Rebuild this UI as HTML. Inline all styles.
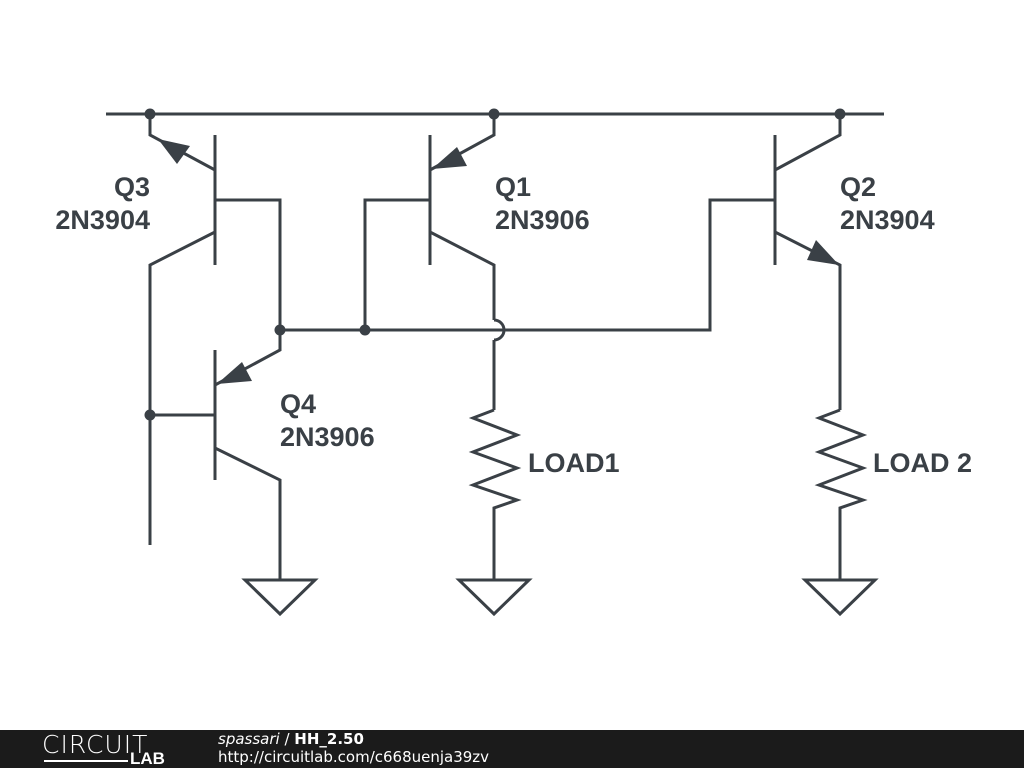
<!DOCTYPE html>
<html><head><style>
body{margin:0;width:1024px;height:768px;background:#fff;overflow:hidden;position:relative;font-family:"Liberation Sans",sans-serif}
svg{position:absolute;left:0;top:0}
.f{position:absolute;left:0;top:730px;width:1024px;height:38px;background:#1b1b1b}
</style></head><body>
<svg width="1024" height="730" viewBox="0 0 1024 730">
<g stroke="#3a4046" stroke-width="3" fill="none" stroke-linejoin="miter">
<line x1="106" y1="114" x2="884" y2="114"/>
<line x1="215" y1="135" x2="215" y2="265"/>
<polyline points="150,114 150,135 215,170"/>
<polyline points="215,200 280,200 280,350 215,385"/>
<polyline points="215,232 150,265 150,545"/>
<line x1="430" y1="135" x2="430" y2="265"/>
<polyline points="494,114 494,135 430,170"/>
<polyline points="430,200 365,200 365,330"/>
<polyline points="430,232 494,265 494,320"/>
<path d="M494,320 A10,10 0 0 1 494,340"/>
<line x1="494" y1="340" x2="494" y2="410"/>
<polyline points="494,410 473,418 517,435 473,452 517,468 473,485 517,500 494,508 494,580"/>
<polyline points="280,330 710,330 710,200 775,200"/>
<line x1="775" y1="135" x2="775" y2="265"/>
<polyline points="840,114 840,135 775,170"/>
<polyline points="775,232 840,265 840,410"/>
<polyline points="840,410 819,418 863,435 819,452 863,468 819,485 863,500 840,508 840,580"/>
<line x1="215" y1="350" x2="215" y2="480"/>
<line x1="150" y1="415" x2="215" y2="415"/>
<polyline points="215,448 280,480 280,580"/>
<polygon points="245,580 315,580 280,614"/>
<polygon points="459,580 529,580 494,614"/>
<polygon points="805,580 875,580 840,614"/>
</g>
<g fill="#3a4046">
<circle cx="150" cy="114" r="5.5"/><circle cx="494" cy="114" r="5.5"/><circle cx="840" cy="114" r="5.5"/>
<circle cx="280" cy="330" r="5.5"/><circle cx="365" cy="330" r="5.5"/><circle cx="150" cy="415" r="5.5"/>
<polygon points="158,139 190,146 177,164"/>
<polygon points="432,169 457,147 467,166"/>
<polygon points="839,265 807,260 816,240"/>
<polygon points="217,384 242,362 252,381"/>
</g>
<g fill="#3a4046" font-family="Liberation Sans, sans-serif" font-weight="bold" font-size="27">
<text x="150" y="196" text-anchor="end">Q3</text>
<text x="150" y="229" text-anchor="end">2N3904</text>
<text x="495" y="196">Q1</text>
<text x="495" y="229">2N3906</text>
<text x="840" y="196">Q2</text>
<text x="840" y="229">2N3904</text>
<text x="280" y="413">Q4</text>
<text x="280" y="446">2N3906</text>
<text x="528" y="472">LOAD1</text>
<text x="873" y="472">LOAD 2</text>
</g>
</svg>
<div class="f">
<div style="position:absolute;left:42px;top:0px;color:#fff;font-size:25px;letter-spacing:1px;font-family:'DejaVu Sans',sans-serif;font-weight:300">CIRCUIT</div>
<div style="position:absolute;left:130px;top:19px;color:#fff;font-size:17px;font-weight:bold">LAB</div>
<div style="position:absolute;left:44px;top:30px;width:84px;height:2px;background:#fff"></div>
<div style="position:absolute;left:218px;top:0px;color:#fff;font-size:15px;font-family:'DejaVu Sans',sans-serif"><i>spassari</i> / <b>HH_2.50</b></div>
<div style="position:absolute;left:218px;top:18px;color:#fff;font-size:15px;font-family:'DejaVu Sans',sans-serif">http://circuitlab.com/c668uenja39zv</div>
</div>
</body></html>
